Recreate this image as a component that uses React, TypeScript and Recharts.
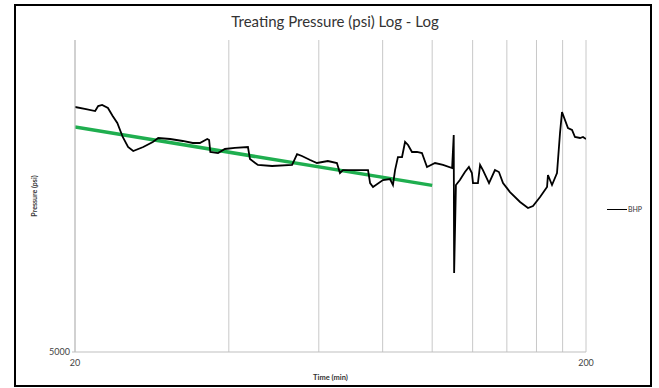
import React from 'react';
import { LineChart, Line, XAxis, YAxis, CartesianGrid, Label } from 'recharts';

// BHP log, time (min) vs pressure (psi)
const bhpTime = [
  20.0, 20.9, 21.9, 22.2, 22.6, 23.2, 23.7, 24.2, 24.8, 25.4, 26.0, 27.2, 28.4, 29.1,
  30.7, 32.5, 34.0, 35.1, 36.3, 36.6, 36.8, 38.1, 39.3, 41.1, 43.6, 44.0, 45.6, 48.6,
  53.2, 54.4, 55.6, 57.7, 59.5, 62.5, 65.1, 66.0, 66.9, 74.9, 75.6, 76.6, 80.1, 82.7,
  83.8, 84.6, 85.7, 87.3, 88.5, 89.7, 91.3, 93.4, 95.5, 97.7, 101.3, 105.0, 109.4,
  110.2, 110.4, 111.3, 113.3, 115.9, 118.0, 119.6, 120.2, 122.9, 124.1, 125.7, 129.2,
  132.7, 135.1, 137.6, 142.0, 148.6, 154.0, 157.5, 162.6, 167.8, 168.5, 171.6, 175.5,
  177.9, 179.5, 184.4, 187.8, 190.3, 194.7, 197.3, 200.0,
];
const bhpPressure = [
  30500, 30050, 29600, 30720, 30950, 30270, 28530, 27100, 24440, 22700, 22040, 22700, 23560, 24260,
  24080, 23730, 23380, 23380, 24080, 23900, 21880, 21710, 22370, 22540, 22700, 20770, 19880, 19730,
  19880, 21550, 21240, 20620, 20170, 20470, 20170, 18740, 19150, 19150, 17400, 16900, 17790, 17920,
  17150, 19150, 21080, 21080, 23560, 23040, 21880, 21880, 21710, 19580, 20170, 19880, 19440,
  24800, 8960, 17150, 17790, 18870, 19580, 18740, 17400, 17400, 19880, 19150, 17400,
  19150, 18870, 17400, 16280, 15130, 14470, 14690, 15690, 16900, 18460, 17150, 18740,
  25170, 29390, 26120, 25740, 24440, 24260, 24440, 24080,
];

// straight power-law trend over the early period
const trendTime = [20, 100];
const trendPressure = [26300, 17100];

const xTicks = [20, 40, 60, 80, 100, 120, 140, 160, 180, 200];
const yTicks = [5000];

const bhpData = bhpTime.map((t, i) => ({ t, p: bhpPressure[i] }));
const trendData = trendTime.map((t, i) => ({ t, p: trendPressure[i] }));

const font = 'Lato, "Open Sans", sans-serif';

const App: React.FC = () => {
  return (
    <div style={{ position: 'absolute', left: 0, top: 0, width: 659, height: 388, background: '#fff', fontFamily: font }}>
      <div
        style={{
          position: 'absolute',
          left: 14,
          top: 4,
          width: 638,
          height: 383,
          border: '2px solid #000',
          boxSizing: 'border-box',
        }}
      />
      <div
        style={{
          position: 'absolute',
          left: 0,
          width: 670,
          top: 12,
          textAlign: 'center',
          fontSize: 15,
          color: '#333',
        }}
      >
        Treating Pressure (psi) Log - Log
      </div>

      <LineChart
        width={659}
        height={388}
        margin={{ top: 40, right: 73, bottom: 0, left: 0 }}
        style={{ position: 'absolute', left: 0, top: 0 }}
      >
        <CartesianGrid horizontal={false} stroke="#c8c8c8" strokeWidth={1} />
        <XAxis
          dataKey="t"
          type="number"
          scale="log"
          domain={[20, 200]}
          ticks={xTicks}
          interval={0}
          allowDataOverflow
          height={36}
          stroke="#bfbfbf"
          tickLine={false}
          tick={{ fontSize: 9, fill: '#444', fontFamily: font }}
          tickFormatter={(v: number) => (v === 20 || v === 200 ? String(v) : '')}
        >
          <Label
            value="Time (min)"
            position="insideBottom"
            offset={8}
            style={{ fontSize: 7.5, fontWeight: 700, fill: '#333', fontFamily: font }}
          />
        </XAxis>
        <YAxis
          dataKey="p"
          type="number"
          scale="log"
          domain={[5000, 50000]}
          ticks={yTicks}
          allowDataOverflow
          width={75}
          stroke="#bfbfbf"
          tickSize={3}
          tick={{ fontSize: 9, fill: '#444', fontFamily: font }}
        >
          <Label
            value="Pressure (psi)"
            angle={-90}
            position="insideLeft"
            offset={35}
            style={{ fontSize: 7, fontWeight: 700, fill: '#333', textAnchor: 'middle', fontFamily: font }}
          />
        </YAxis>
        <Line
          data={trendData}
          dataKey="p"
          type="linear"
          stroke="#1fae4f"
          strokeWidth={3.5}
          dot={false}
          isAnimationActive={false}
        />
        <Line
          data={bhpData}
          dataKey="p"
          type="linear"
          stroke="#000"
          strokeWidth={1.8}
          dot={false}
          isAnimationActive={false}
        />
      </LineChart>

      <div style={{ position: 'absolute', left: 607, top: 205, display: 'flex', alignItems: 'center' }}>
        <div style={{ width: 20, height: 0, borderTop: '1.5px solid #000' }} />
        <span style={{ fontSize: 7, color: '#333', marginLeft: 1 }}>BHP</span>
      </div>
    </div>
  );
};

export default App;
